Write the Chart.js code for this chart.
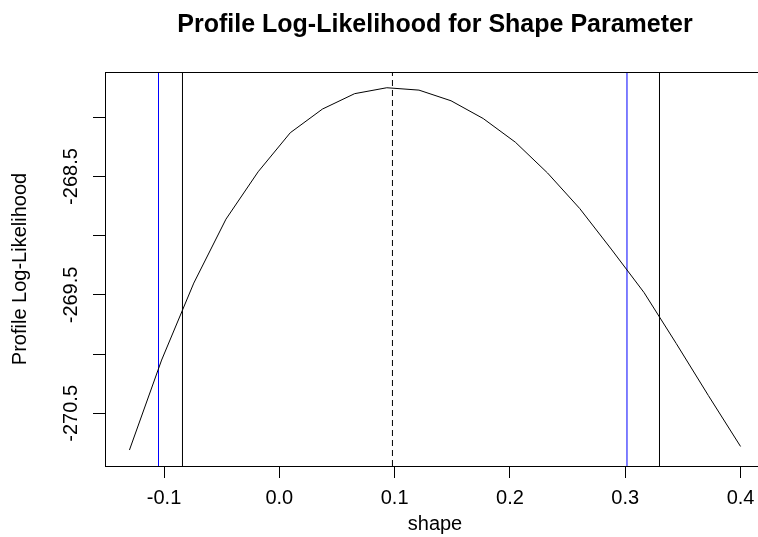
<!DOCTYPE html>
<html>
<head>
<meta charset="utf-8">
<script src="https://cdn.jsdelivr.net/npm/chart.js@4.4.1/dist/chart.umd.min.js"></script>
<style>
  body { margin: 0; overflow: hidden; background: #fff; }
</style>
</head>
<body>
<canvas id="profChart" width="770" height="537"></canvas>
<script>
// profile curve
const shapeVals = [-0.1300, -0.1021, -0.0742, -0.0463, -0.0184, 0.0095, 0.0374, 0.0653, 0.0932, 0.1211,
                   0.1489, 0.1768, 0.2047, 0.2326, 0.2605, 0.2884, 0.3163, 0.3442, 0.3721, 0.4000];
const logLik = [-270.81, -270.05, -269.40, -268.86, -268.46, -268.13, -267.93, -267.80, -267.75, -267.77,
                -267.86, -268.01, -268.21, -268.47, -268.77, -269.12, -269.48, -269.91, -270.35, -270.78];

const mleShape = 0.0981;
const normalCI = [-0.1048, 0.3015];  // blue lines
const profileCI = [-0.0840, 0.3297]; // black lines

const xTicks = [-0.1, 0.0, 0.1, 0.2, 0.3, 0.4];
const xTickLabels = ["-0.1", "0.0", "0.1", "0.2", "0.3", "0.4"];
const yTicks = [-268, -268.5, -269, -269.5, -270, -270.5];
const yTickLabels = ["", "-268.5", "", "-269.5", "", "-270.5"];
const xRange = [-0.1512, 0.4212];
const yRange = [-270.945, -267.617];

const chartTitle = "Profile Log-Likelihood for Shape Parameter";
const xTitle = "shape";
const yTitle = "Profile Log-Likelihood";

const FONT = "'Liberation Sans', Arial, sans-serif";

function vline(v, color, dash) {
  return {
    data: [{ x: v, y: yRange[0] }, { x: v, y: yRange[1] }],
    showLine: true,
    borderColor: color,
    backgroundColor: color,
    borderWidth: 1,
    borderDash: dash || [],
    pointRadius: 0,
  };
}

// box, titles and tick labels drawn the R way
const decorations = {
  id: "decorations",
  afterDraw(chart) {
    const ctx = chart.ctx;
    const a = chart.chartArea;
    const xs = chart.scales.x, ys = chart.scales.y;
    ctx.save();
    ctx.strokeStyle = "#000";
    ctx.lineWidth = 1;
    ctx.strokeRect(Math.round(a.left) + 0.5, Math.round(a.top) + 0.5,
                   Math.round(a.right - a.left), Math.round(a.bottom - a.top));

    ctx.fillStyle = "#000";
    ctx.textAlign = "center";
    ctx.textBaseline = "alphabetic";
    ctx.font = "bold 25px " + FONT;
    ctx.fillText(chartTitle, (a.left + a.right) / 2, 32);

    ctx.font = "20px " + FONT;
    xTicks.forEach((v, i) => {
      ctx.fillText(xTickLabels[i], xs.getPixelForValue(v), 504);
    });
    ctx.fillText(xTitle, (a.left + a.right) / 2, 530);

    ctx.textBaseline = "middle";
    yTicks.forEach((v, i) => {
      if (!yTickLabels[i]) return;
      ctx.save();
      ctx.translate(71, ys.getPixelForValue(v));
      ctx.rotate(-Math.PI / 2);
      ctx.fillText(yTickLabels[i], 0, 0);
      ctx.restore();
    });
    ctx.save();
    ctx.translate(20, (a.top + a.bottom) / 2);
    ctx.rotate(-Math.PI / 2);
    ctx.fillText(yTitle, 0, 0);
    ctx.restore();
    ctx.restore();
  },
};

const profConfig = {
  type: "scatter",
  data: {
    datasets: [
      {
        data: shapeVals.map((x, i) => ({ x: x, y: logLik[i] })),
        showLine: true,
        borderColor: "#000",
        borderWidth: 1,
        pointRadius: 0,
        tension: 0,
      },
      vline(mleShape, "#000", [6, 4]),
      vline(normalCI[0], "#0000ff"),
      vline(normalCI[1], "#0000ff"),
      vline(profileCI[0], "#000000"),
      vline(profileCI[1], "#000000"),
    ],
  },
  options: {
    responsive: false,
    animation: false,
    devicePixelRatio: 1,
    events: [],
    layout: { padding: { left: 0, right: 5, top: 72, bottom: 0 } },
    plugins: { legend: { display: false }, tooltip: { enabled: false }, title: { display: false } },
    scales: {
      x: {
        type: "linear",
        min: xRange[0],
        max: xRange[1],
        afterBuildTicks: (s) => { s.ticks = xTicks.map((v) => ({ value: v })); },
        afterFit: (s) => { s.height = 71; },
        ticks: { display: false },
        border: { display: false },
        grid: { drawOnChartArea: false, drawTicks: true, tickLength: 12, color: "#000" },
      },
      y: {
        type: "linear",
        min: yRange[0],
        max: yRange[1],
        afterBuildTicks: (s) => { s.ticks = yTicks.map((v) => ({ value: v })); },
        afterFit: (s) => { s.width = 105; },
        ticks: { display: false },
        border: { display: false },
        grid: { drawOnChartArea: false, drawTicks: true, tickLength: 12, color: "#000" },
      },
    },
  },
  plugins: [decorations],
};

const profChart = new Chart(document.getElementById("profChart"), profConfig);
</script>
</body>
</html>
